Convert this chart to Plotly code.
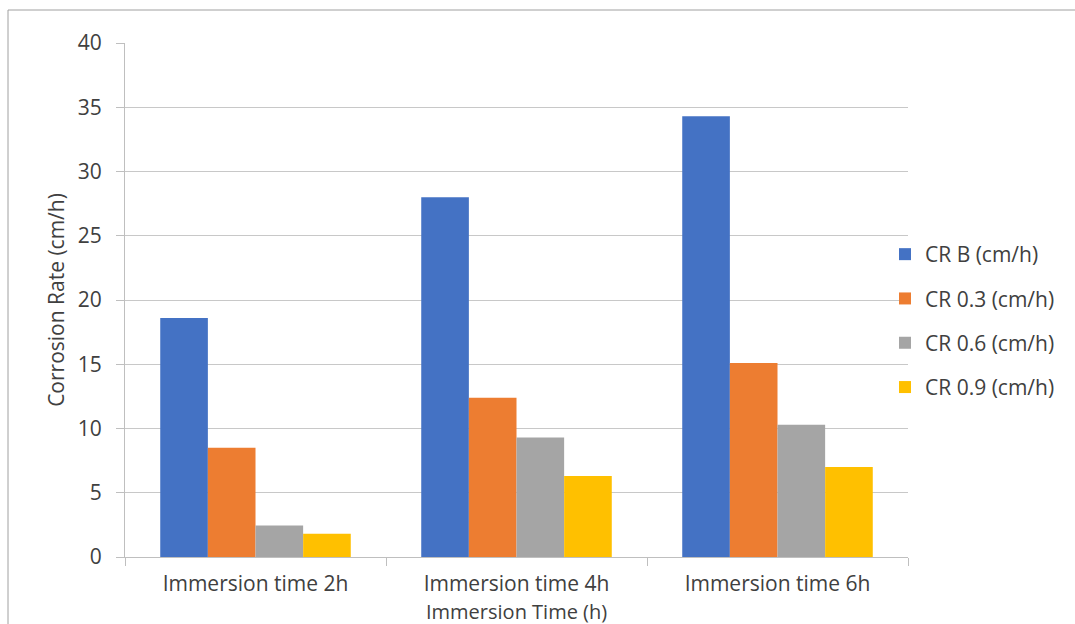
import plotly.graph_objects as go

# Corrosion rate per immersion time and inhibitor concentration
categories = ["Immersion time 2h", "Immersion time 4h", "Immersion time 6h"]
series_names = ["CR B (cm/h)", "CR 0.3 (cm/h)", "CR 0.6 (cm/h)", "CR 0.9 (cm/h)"]
cr_b = [18.6, 28.0, 34.3]
cr_03 = [8.5, 12.4, 15.1]
cr_06 = [2.45, 9.3, 10.3]
cr_09 = [1.8, 6.3, 7.0]
colors = ["#4472C4", "#ED7D31", "#A5A5A5", "#FFC000"]
y_ticks = [0, 5, 10, 15, 20, 25, 30, 35, 40]

FONT = "Open Sans"
FS = 21
W, H = 1075, 624
L, R, T, B = 125, 167, 43, 67
pw, ph = W - L - R, H - T - B

fig = go.Figure()
for i, (name, vals) in enumerate(zip(series_names, [cr_b, cr_03, cr_06, cr_09])):
    fig.add_trace(go.Bar(
        x=categories, y=vals, name=name,
        marker=dict(color=colors[i], line=dict(width=0)),
        legendgroup=f"g{i}",
    ))

def px_x(x):
    return (x - L) / pw

def px_y(y):
    return (H - B - y) / ph

fig.update_layout(
    width=W, height=H,
    margin=dict(l=L, r=R, t=T, b=B),
    paper_bgcolor="white", plot_bgcolor="white",
    barmode="group", bargap=0.27, bargroupgap=0,
    font=dict(family=FONT, color="#404040", size=FS),
    xaxis=dict(
        showgrid=False, showline=True, linecolor="#BFBFBF", linewidth=1,
        ticks="outside", ticklen=8, tickcolor="#BFBFBF",
        tickson="boundaries", tickfont=dict(size=FS), ticklabelstandoff=8,
    ),
    yaxis=dict(
        range=[0, 40], tickvals=y_ticks, showgrid=True, gridcolor="#C8C8C8",
        gridwidth=1, showline=True, linecolor="#BFBFBF", linewidth=1,
        ticks="outside", ticklen=8, tickcolor="#BFBFBF",
        tickfont=dict(size=FS), ticklabelstandoff=10, zeroline=False,
        title=dict(text="Corrosion Rate (cm/h)", font=dict(size=FS), standoff=7),
    ),
    legend=dict(
        x=px_x(885), y=px_y(234), xanchor="left", yanchor="top",
        font=dict(size=FS, color="#404040"), tracegroupgap=14,
        bgcolor="rgba(0,0,0,0)",
    ),
    annotations=[dict(
        text="Immersion Time (h)", xref="paper", yref="paper",
        x=0.5, y=px_y(627), xanchor="center", yanchor="bottom",
        showarrow=False, font=dict(size=20, color="#404040"),
    )],
    shapes=[dict(
        type="rect", xref="paper", yref="paper",
        x0=px_x(8), x1=px_x(W + 10), y0=px_y(H + 10), y1=px_y(10),
        line=dict(color="#A0A0A0", width=1), layer="below",
    )],
)

fig.write_html("out.html")
